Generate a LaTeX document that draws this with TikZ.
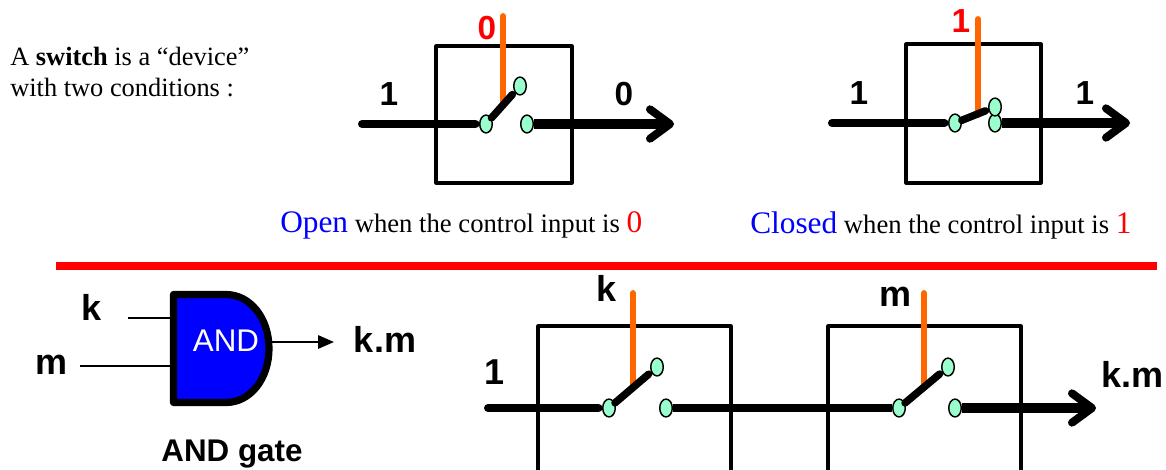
\documentclass[tikz,border=0pt]{standalone}
\usepackage{fontspec}
\setmainfont{Liberation Serif}
\newfontfamily\arialf{Liberation Sans}
\usetikzlibrary{shapes.geometric,arrows.meta}
\definecolor{mint}{HTML}{99FFCC}
\definecolor{ctrl}{HTML}{FF6600}
\definecolor{gateblue}{HTML}{0000FF}
\tikzset{
  x=0.75pt,y=-0.75pt,
  boxline/.style={line width=2.4pt,line join=round},
  wirein/.style={line width=6pt,line cap=round,shorten >=2.6pt},
  wireout/.style={line width=7pt,line cap=butt,-{Straight Barb[round,length=15pt,width=22pt,line width=6pt]}},
  wiremid/.style={line width=6.6pt},
  lever/.style={line width=5.6pt,line cap=round,shorten >=2.4pt},
  ctrlline/.style={line width=4.4pt,line cap=round,ctrl},
  contact/.style={ellipse,draw=black,line width=1.1pt,fill=mint,inner sep=0pt,minimum width=9.4pt,minimum height=13.4pt},
  lab/.style={font=\arialf\bfseries\fontsize{25}{28}\selectfont,inner sep=0pt},
  labbig/.style={lab,font=\arialf\bfseries\fontsize{27}{30}\selectfont},
  bigred/.style={lab,text=red},
  serif/.style={inner sep=0pt,anchor=base west,font=\fontsize{20}{24}\selectfont},
  thinwire/.style={line width=1.6pt},
}
\newcommand{\bigw}[2]{{\fontsize{23.5}{28}\selectfont\textcolor{#1}{#2}}}
\begin{document}
\begin{tikzpicture}
\useasboundingbox (0,0) rectangle (1166,469);
\clip (0,0) rectangle (1166,469);
\node[serif,align=left,anchor=base west,font=\fontsize{19.8}{23.25}\selectfont] (intro) at (10,96) {A \textbf{switch} is a “device”\\with two conditions :};

% switch 1
\coordinate (a1) at (436,46); \coordinate (a2) at (572,46); \coordinate (a3) at (572,183); \coordinate (a4) at (436,183);
\draw[boxline] (a1) -- (a2) -- (a3) -- (a4) -- cycle;
\coordinate (ain) at (362,124); \coordinate (aout) at (674,124);
\coordinate (atop) at (503,16); \coordinate (abot) at (503,105);
\draw[ctrlline] (atop) -- (abot);
\node[contact] (ap) at (486,124) {};
\node[contact] (aq) at (527,124) {};
\node[contact] (ar) at (520,86) {};
\draw[wirein] (ain) -- (ap);
\draw[wireout] (aq) -- (aout);
\draw[lever] (ap) -- (ar);
\node[bigred] (a0) at (487,28) {0};
\node[lab] (a1l) at (389,94) {1};
\node[lab] (a0l) at (624,94) {0};
\node[serif] (acap) at (280,232) {\bigw{gateblue}{Open} when the control input is \bigw{red}{0}};

% switch 2
\coordinate (b1) at (906,44); \coordinate (b2) at (1041,44); \coordinate (b3) at (1041,183); \coordinate (b4) at (906,183);
\draw[boxline] (b1) -- (b2) -- (b3) -- (b4) -- cycle;
\coordinate (bin) at (832,123); \coordinate (bout) at (1130,123);
\coordinate (btop) at (978,19); \coordinate (bbot) at (978,115);
\draw[ctrlline] (btop) -- (bbot);
\node[contact] (bp) at (955,123) {};
\node[contact] (bq) at (995,123) {};
\node[contact] (br) at (995,107) {};
\draw[wirein] (bin) -- (bp);
\draw[wireout] (bq) -- (bout);
\draw[lever] (bp) -- (br);
\node[bigred] (b0) at (961,21) {1};
\node[lab] (b1l) at (859,93) {1};
\node[lab] (b2l) at (1085,93) {1};
\node[serif] (bcap) at (750,233) {\bigw{gateblue}{Closed} when the control input is \bigw{red}{1}};

% red rule
\coordinate (r1) at (56,266); \coordinate (r2) at (1157,266);
\draw[red,line width=5.5pt] (r1) -- (r2);

% AND gate
\coordinate (g1) at (173.5,294.5); \coordinate (g2) at (226,294.5); \coordinate (g3) at (269,348.5); \coordinate (g4) at (226,402.5); \coordinate (g5) at (173.5,402.5);
\draw[fill=gateblue,line width=5.4pt,line join=round] (g1) -- (g2) .. controls (250,294.5) and (269,318) .. (g3) .. controls (269,379) and (250,402.5) .. (g4) -- (g5) -- cycle;
\node[inner sep=0pt,text=white,font=\arialf\fontsize{23.5}{28}\selectfont] (gand) at (226,341) {AND};
\coordinate (gk) at (128,318); \coordinate (gkk) at (172,318);
\coordinate (gm) at (80,366); \coordinate (gmm) at (172,366);
\coordinate (go) at (272,342); \coordinate (goo) at (334,342);
\draw[thinwire] (gk) -- (gkk);
\draw[thinwire] (gm) -- (gmm);
\draw[thinwire,-{Triangle[length=12pt,width=10pt]}] (go) -- (goo);
\node[labbig] (lk) at (92,307) {k};
\node[labbig] (lm) at (52,365) {m};
\node[labbig] (lkm) at (385,339) {k.m};
\node[lab,font=\arialf\bfseries\fontsize{23.5}{28}\selectfont] (lgate) at (232,454) {AND gate};

% bottom switches
\coordinate (c1) at (538,480); \coordinate (c2) at (538,326); \coordinate (c3) at (731,326); \coordinate (c4) at (731,480);
\draw[boxline] (c1) -- (c2) -- (c3) -- (c4);
\coordinate (d1) at (828,480); \coordinate (d2) at (828,326); \coordinate (d3) at (1021,326); \coordinate (d4) at (1021,480);
\draw[boxline] (d1) -- (d2) -- (d3) -- (d4);
\coordinate (cin) at (488,408); \coordinate (dout) at (1096,408);
\coordinate (ctop) at (633,293); \coordinate (cbot) at (633,388);
\coordinate (dtop) at (924,293); \coordinate (dbot) at (924,388);
\draw[ctrlline] (ctop) -- (cbot);
\draw[ctrlline] (dtop) -- (dbot);
\node[contact] (cp) at (609,408) {};
\node[contact] (cq) at (666,408) {};
\node[contact] (cr) at (657,367) {};
\node[contact] (dp) at (899,408) {};
\node[contact] (dq) at (955,408) {};
\node[contact] (dr) at (948,367) {};
\draw[wirein] (cin) -- (cp);
\draw[wiremid] (cq) -- (dp);
\draw[wireout] (dq) -- (dout);
\draw[lever] (cp) -- (cr);
\draw[lever] (dp) -- (dr);
\node[labbig] (lk2) at (607,288) {k};
\node[labbig] (lm2) at (895,297) {m};
\node[labbig] (lone) at (495,372) {1};
\node[labbig] (lkm2) at (1132,374) {k.m};
\end{tikzpicture}
\end{document}
